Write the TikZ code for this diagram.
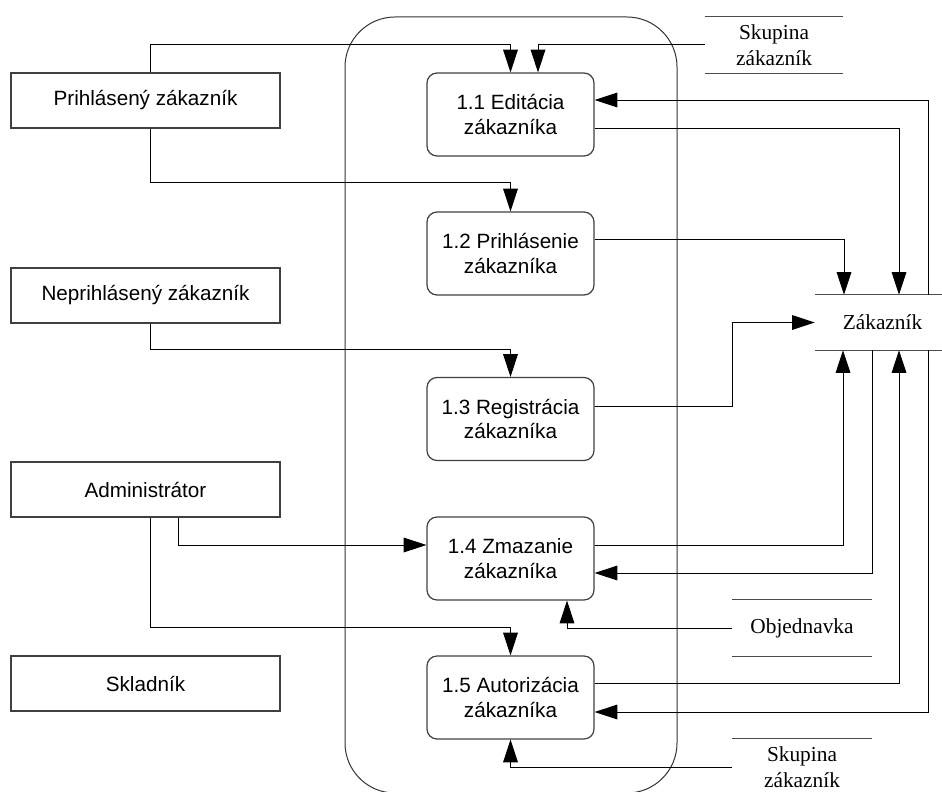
\documentclass[tikz,border=0pt]{standalone}
\usepackage{fontspec}
\setmainfont{Liberation Serif}
\newfontfamily\sansbox{Liberation Sans}
\usetikzlibrary{arrows.meta, positioning}

\begin{document}
\begin{tikzpicture}[
    x=0.75pt, y=-0.75pt,
    entity/.style={rectangle, draw=black!75, line width=0.9pt,
                minimum width=201.75pt, minimum height=41.25pt, inner sep=0pt,
                font=\sansbox\fontsize{15.5}{18.5}\selectfont},
    process/.style={rectangle, draw=black!75, line width=0.9pt, rounded corners=7.5pt,
                minimum width=125.25pt, minimum height=62.25pt, inner sep=0pt,
                align=center, font=\sansbox\fontsize{15.5}{18.5}\selectfont},
    store/.style={inner sep=0pt, minimum width=105pt, minimum height=42pt,
                align=center, font=\fontsize{16}{19.5}\selectfont},
    flow/.style={-{Triangle[length=17pt, width=11pt]}, line width=0.75pt},
    storeline/.style={draw=black!70, line width=0.9pt}
  ]
    \useasboundingbox (0,0) rectangle (942,792);

    \node[draw=black!80, line width=0.75pt, rounded corners=37.5pt,
          minimum width=249pt, minimum height=582pt] (system) at (511,405) {};

    % externe entity
    \node[entity] (prihl)   at (145.5,100.5) {Prihlásený zákazník};
    \node[entity] (neprihl) at (145.5,295.5) {Neprihlásený zákazník};
    \node[entity] (admin)   at (145.5,489.5) {Administrátor};
    \node[entity] (sklad)   at (145.5,683.5) {Skladník};

    % procesy
    \node[process] (p11) at (510.5,114.5) {1.1 Editácia\\zákazníka};
    \node[process] (p12) at (510.5,253.5) {1.2 Prihlásenie\\zákazníka};
    \node[process] (p13) at (510.5,419)   {1.3 Registrácia\\zákazníka};
    \node[process] (p14) at (510.5,558.5) {1.4 Zmazanie\\zákazníka};
    \node[process] (p15) at (510.5,697.5) {1.5 Autorizácia\\zákazníka};

    % dátové sklady
    \node[store, minimum width=103.5pt] (skup1) at (774,45) {Skupina\\zákazník};
    \node[store, minimum width=95.25pt, minimum height=41.25pt] (zak) at (878.5,322.5) {\hspace*{6pt}Zákazník};
    \node[store] (obj)   at (802,628) {Objednavka};
    \node[store] (skup2) at (802,767) {Skupina\\zákazník};

    \foreach \s in {skup1, zak, obj}
      \draw[storeline] (\s.north west) -- (\s.north east) (\s.south west) -- (\s.south east);
    \draw[storeline] (skup2.north west) -- (skup2.north east);

    % toky
    \draw[flow] ([shift={(4.5,0)}]prihl.north) |- ([shift={(0,-28)}]p11.north) -- (p11.north);
    \draw[flow] (skup1.west) -| ([shift={(27.5,0)}]p11.north);
    \draw[flow] ([shift={(4.5,0)}]prihl.south) |- ([shift={(0,-29)}]p12.north) -- (p12.north);
    \draw[flow] ([shift={(4.5,0)}]neprihl.south) |- ([shift={(0,-27)}]p13.north) -- (p13.north);
    \draw[flow] ([shift={(32.5,0)}]admin.south) |- ([shift={(0,-13.5)}]p14.west);
    \draw[flow] ([shift={(4.5,0)}]admin.south) |- ([shift={(0,-28)}]p15.north) -- (p15.north);

    \draw[flow] ([shift={(0,13.5)}]p11.east) -| ([shift={(20.5,0)}]zak.north);
    \draw[flow] ([shift={(49.5,0)}]zak.north) |- ([shift={(0,-14.5)}]p11.east);
    \draw[flow] ([shift={(0,-14.5)}]p12.east) -| ([shift={(-34.5,0)}]zak.north);
    \draw[flow] ([shift={(0,-13)}]p13.east) -- ++(138,0) |- (zak.west);
    \draw[flow] ([shift={(0,-13.5)}]p14.east) -| ([shift={(-35.5,0)}]zak.south);
    \draw[flow] ([shift={(-6.5,0)}]zak.south) |- ([shift={(0,14.5)}]p14.east);
    \draw[flow] (obj.west) -| ([shift={(56.5,0)}]p14.south);
    \draw[flow] ([shift={(0,-14.5)}]p15.east) -| ([shift={(20.5,0)}]zak.south);
    \draw[flow] ([shift={(49.5,0)}]zak.south) |- ([shift={(0,14.5)}]p15.east);
    \draw[flow] (skup2.west) -| (p15.south);
\end{tikzpicture}
\end{document}
